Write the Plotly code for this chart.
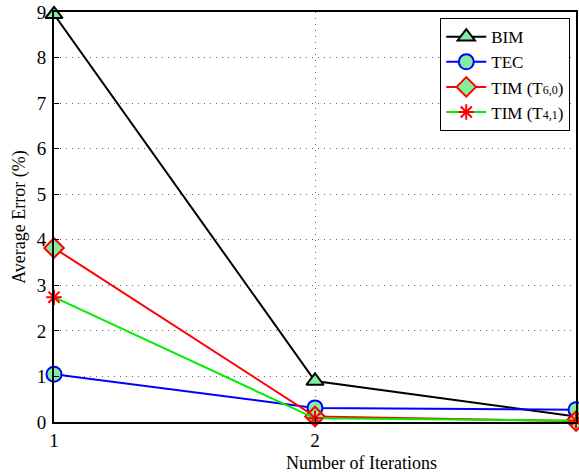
import plotly.graph_objects as go

iterations = [1, 2, 3]
bim = [8.95, 0.9, 0.12]
tec = [1.05, 0.31, 0.27]
tim_t60 = [3.82, 0.12, 0.02]
tim_t41 = [2.74, 0.08, 0.03]

FONT = "'Times New Roman', 'Liberation Serif', serif"
FILL = "#80F0A0"

def small(txt):
    return f"<span style='font-size:12px'>{txt}</span>"

fig = go.Figure()
fig.add_trace(go.Scatter(
    x=iterations, y=bim, name="BIM", mode="lines+markers", cliponaxis=False,
    line=dict(color="black", width=2),
    marker=dict(symbol="triangle-up", size=15, color=FILL, line=dict(color="black", width=2)),
))
fig.add_trace(go.Scatter(
    x=iterations, y=tec, name="TEC", mode="lines+markers", cliponaxis=False,
    line=dict(color="blue", width=2),
    marker=dict(symbol="circle", size=15, color=FILL, line=dict(color="blue", width=2)),
))
fig.add_trace(go.Scatter(
    x=iterations, y=tim_t60, name=f"TIM (T{small('6,0')})", mode="lines+markers", cliponaxis=False,
    line=dict(color="red", width=2),
    marker=dict(symbol="diamond", size=15, color=FILL, line=dict(color="red", width=2)),
))
fig.add_trace(go.Scatter(
    x=iterations, y=tim_t41, name=f"TIM (T{small('4,1')})", mode="lines+markers", cliponaxis=False,
    line=dict(color="#00EE00", width=2),
    marker=dict(symbol="asterisk-open", size=13, color="red", line=dict(color="red", width=2)),
))

axis_common = dict(
    showline=True, linecolor="black", linewidth=2, mirror=True,
    ticks="inside", ticklen=5, tickcolor="black", tickwidth=1,
    showgrid=True, gridcolor="#666666", griddash="1px,5px", gridwidth=1,
    zeroline=False, tickfont=dict(family=FONT, size=19, color="black"),
)

fig.update_xaxes(range=[1, 3], tickvals=[1, 2, 3], ticklabelstandoff=0, **axis_common)
fig.update_yaxes(
    range=[0, 9], tickvals=list(range(10)), ticklabelstandoff=2, **axis_common,
    title=dict(text="Average Error (%)", font=dict(family=FONT, size=18, color="black"), standoff=6),
)

fig.add_annotation(
    text="Number of Iterations", xref="paper", yref="paper", x=0.59, y=-0.1,
    xanchor="center", yanchor="middle", showarrow=False,
    font=dict(family=FONT, size=18, color="black"),
)

fig.update_layout(
    width=579, height=472,
    margin=dict(l=54, r=1, t=12, b=50),
    plot_bgcolor="white", paper_bgcolor="white",
    font=dict(family=FONT, color="black"),
    legend=dict(
        x=0.74, y=0.985, xanchor="left", yanchor="top",
        bgcolor="white", bordercolor="black", borderwidth=1,
        font=dict(family=FONT, size=17, color="black"),
        tracegroupgap=0, itemwidth=40,
    ),
)

fig.write_html("out.html")
